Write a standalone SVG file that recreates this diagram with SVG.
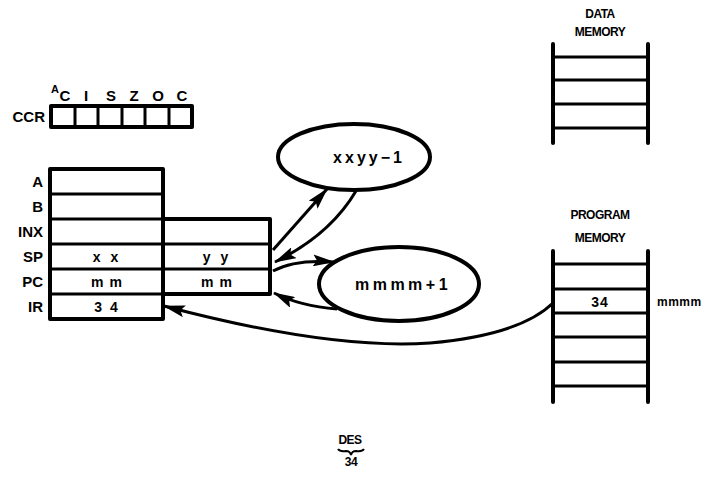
<svg xmlns="http://www.w3.org/2000/svg" width="715" height="488" viewBox="0 0 715 488">
<style>
text{font-family:"Liberation Sans",Arial,sans-serif;font-weight:bold;fill:#000}
.lbl{font-size:15px;text-anchor:end}
.c{font-size:14px;text-anchor:middle}
.sm{font-size:12px;text-anchor:middle;letter-spacing:-0.5px}
.frame{fill:#fff;stroke:#000;stroke-width:4;stroke-linejoin:round}
.sep{stroke:#000;stroke-width:3;fill:none}
.rail{stroke:#000;stroke-width:4;stroke-linecap:round;fill:none}
.rung{stroke:#000;stroke-width:3;fill:none}
.ell{fill:#fff;stroke:#000;stroke-width:4}
.con{fill:none;stroke:#000;stroke-width:3}
</style>
<defs>
<marker id="ah" viewBox="0 0 22 12" refX="21" refY="6" markerWidth="22" markerHeight="12" markerUnits="userSpaceOnUse" orient="auto">
<path d="M0,0 L22,6 L0,12 L4,6 Z" fill="#000"/>
</marker>
</defs>

<g id="ccr">
<text class="lbl" x="45" y="122">CCR</text>
<rect class="frame" x="51" y="106" width="141" height="21"/>
<path class="sep" d="M75,106V127M98,106V127M122,106V127M145,106V127M169,106V127"/>
<text x="51" y="93" style="font-size:11px">A</text>
<text class="c" x="65" y="101" style="font-size:15px">C</text>
<text class="c" x="86" y="101" style="font-size:15px">I</text>
<text class="c" x="111" y="101" style="font-size:15px">S</text>
<text class="c" x="134" y="101" style="font-size:15px">Z</text>
<text class="c" x="158" y="101" style="font-size:15px">O</text>
<text class="c" x="182" y="101" style="font-size:15px">C</text>
</g>

<g id="registers">
<rect class="frame" x="163" y="219" width="107" height="75"/>
<rect class="frame" x="50" y="169" width="113" height="150"/>
<path class="sep" d="M50,194H163M50,219H163M50,244H270M50,269H270M50,294H163"/>
<path class="sep" d="M163,219V294"/>
<text class="lbl" x="43" y="187">A</text>
<text class="lbl" x="43" y="212">B</text>
<text class="lbl" x="43" y="237">INX</text>
<text class="lbl" x="43" y="262">SP</text>
<text class="lbl" x="43" y="287">PC</text>
<text class="lbl" x="43" y="312">IR</text>
<text class="c" x="107" y="262" style="letter-spacing:3px">x x</text>
<text class="c" x="217" y="262" style="letter-spacing:3px">y y</text>
<text class="c" x="107" y="287" style="letter-spacing:1px">m m</text>
<text class="c" x="217" y="287" style="letter-spacing:1px">m m</text>
<text class="c" x="107" y="312" style="letter-spacing:2px">3 4</text>
</g>

<g id="sp-calc">
<ellipse class="ell" cx="354" cy="157" rx="76" ry="33"/>
<text class="c" x="369" y="163" style="font-size:16px;letter-spacing:3px">xxyy−1</text>
</g>

<g id="pc-calc">
<ellipse class="ell" cx="399" cy="284" rx="80" ry="37"/>
<text class="c" x="403" y="290" style="font-size:16px;letter-spacing:3.5px">mmmm+1</text>
</g>

<g id="data-memory">
<text class="sm" x="600" y="18">DATA</text>
<text class="sm" x="600" y="36">MEMORY</text>
<path class="rail" d="M553,44V143M648,44V143"/>
<path class="rung" d="M553,57H648M553,80H648M553,104H648M553,128H648"/>
</g>

<g id="program-memory">
<text class="sm" x="600" y="219">PROGRAM</text>
<text class="sm" x="600" y="242">MEMORY</text>
<path class="rail" d="M553,251V402M648,251V402"/>
<path class="rung" d="M553,264H648M553,289H648M553,313H648M553,337H648M553,362H648M553,386H648"/>
<text class="c" x="600" y="307" style="letter-spacing:1px">34</text>
<text x="657" y="306" style="font-size:12px;letter-spacing:0.5px">mmmm</text>
</g>

<g id="des">
<text class="sm" x="350" y="444">DES</text>
<path d="M338,449 Q340,452 346,451 Q350,451 351,455 Q352,451 356,451 Q362,452 364,449" fill="none" stroke="#000" stroke-width="2"/>
<text class="sm" x="351" y="466">34</text>
</g>

<g id="connectors">
<path class="con" d="M273,250 L327,189" marker-end="url(#ah)"/>
<path class="con" d="M356,191 Q330,235 275,262" marker-end="url(#ah)"/>
<path class="con" d="M273,271 Q295,259 334,262" marker-end="url(#ah)"/>
<path class="con" d="M337,309 Q300,306 274,293" marker-end="url(#ah)"/>
<path class="con" d="M553,303 Q520,335 430,343 Q330,350 164,306" marker-end="url(#ah)"/>
</g>
</svg>
